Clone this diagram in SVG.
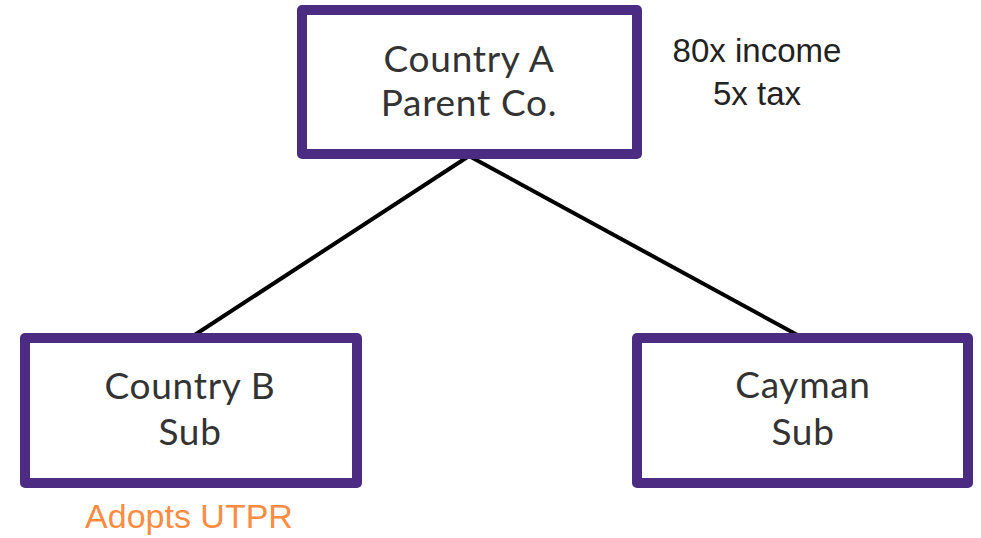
<svg xmlns="http://www.w3.org/2000/svg" width="981" height="538" viewBox="0 0 981 538">
<style>
.box{fill:#fff;stroke:#4b2c82;stroke-width:10;stroke-linejoin:round}
.lbl{font-family:Lato,"Open Sans",sans-serif;font-size:37px;fill:#333;text-anchor:middle;letter-spacing:0.7px}
.note{font-family:"Liberation Sans",Arial,sans-serif;font-size:33px;text-anchor:middle}
.orange{font-size:34px;fill:#ff8c42}
.conn{stroke:#000;stroke-width:4;fill:none}
</style>
<rect width="981" height="538" fill="#fff"/>
<g id="connectors">
<line class="conn" x1="469" y1="156" x2="190" y2="338"/>
<line class="conn" x1="469" y1="156" x2="803" y2="338"/>
</g>
<g id="parent">
<rect class="box" x="302" y="10" width="335" height="144"/>
<text class="lbl" x="469" y="72">Country A</text>
<text class="lbl" x="469" y="116">Parent Co.</text>
</g>
<g id="countryB">
<rect class="box" x="25" y="338" width="332" height="145"/>
<text class="lbl" x="190" y="399">Country B</text>
<text class="lbl" x="190" y="445">Sub</text>
</g>
<g id="cayman">
<rect class="box" x="637" y="338" width="331" height="145"/>
<text class="lbl" x="803" y="398">Cayman</text>
<text class="lbl" x="803" y="445">Sub</text>
</g>
<g id="notes">
<text class="note" x="757" y="62" fill="#222">80x income</text>
<text class="note" x="757" y="105" fill="#222">5x tax</text>
<text class="note orange" x="189" y="528">Adopts UTPR</text>
</g>
</svg>
